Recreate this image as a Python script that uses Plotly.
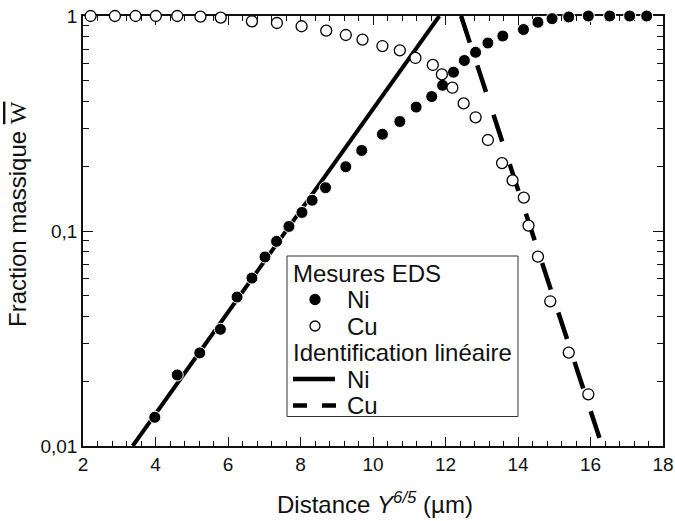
import plotly.graph_objects as go

# Mesures EDS - Ni (filled)
ni_x = [3.98, 4.60, 5.22, 5.79, 6.25, 6.66, 7.02, 7.34, 7.68, 8.04, 8.32, 8.69,
        9.25, 9.69, 10.26, 10.74, 11.19, 11.62, 11.92, 12.22, 12.52, 12.83, 13.17,
        13.58, 14.15, 14.55, 14.94, 15.40, 15.94, 16.53, 17.08, 17.55]
ni_y = [0.0136, 0.0214, 0.0271, 0.0349, 0.0493, 0.0604, 0.0757, 0.0895, 0.105,
        0.122, 0.139, 0.159, 0.199, 0.237, 0.282, 0.323, 0.377, 0.422, 0.476,
        0.548, 0.621, 0.678, 0.749, 0.807, 0.865, 0.935, 0.972, 0.99, 1.0, 1.0,
        1.0, 1.0]

# Mesures EDS - Cu (open)
cu_x = [2.21, 2.88, 3.45, 4.01, 4.60, 5.24, 5.80, 6.66, 7.35, 8.03, 8.71, 9.25,
        9.71, 10.26, 10.74, 11.17, 11.65, 11.90, 12.19, 12.50, 12.83, 13.17,
        13.56, 13.85, 14.16, 14.29, 14.55, 14.89, 15.40, 15.94]
cu_y = [1.0, 1.0, 1.0, 1.0, 1.0, 0.994, 0.983, 0.945, 0.928, 0.896, 0.855, 0.816,
        0.777, 0.725, 0.692, 0.638, 0.592, 0.535, 0.464, 0.392, 0.338, 0.265,
        0.207, 0.172, 0.143, 0.106, 0.076, 0.0471, 0.0272, 0.0174]

# Identification linéaire (end points)
fit_ni_x = [3.37, 11.83]
fit_ni_y = [0.01, 1.0]
fit_cu_x = [12.43, 16.32]
fit_cu_y = [1.0, 0.01]

x_tickvals = [2, 4, 6, 8, 10, 12, 14, 16, 18]
y_tickvals = [0.01, 0.1, 1]
y_ticktext = ["0,01", "0,1", "1"]
y_minor_vals = [m * d for d in (0.01, 0.1) for m in range(2, 10)]

x_title = "Distance <i>Y</i><sup><i>6/5</i></sup> (µm)"
y_title = ("Fraction massique <span style='font-family:Liberation Serif, Times New Roman, serif;"
           "text-decoration:overline'>W</span>")
legend_title_eds = "Mesures EDS"
legend_title_lin = "Identification linéaire"
legend_labels = ["Ni", "Cu", "Ni", "Cu"]

INK = "#111111"
FONT = "Liberation Sans, Arial, sans-serif"

W, H = 675, 521
L, R, T, B = 83, 12, 16, 75
PW, PH = W - L - R, H - T - B


def px2x(px):
    return (px - L) / PW


def px2y(py):
    return (H - B - py) / PH


fig = go.Figure()

fig.add_trace(go.Scatter(
    x=fit_ni_x, y=fit_ni_y, mode="lines", name="Ni (identification)",
    line=dict(color="black", width=4), showlegend=False))
fig.add_trace(go.Scatter(
    x=fit_cu_x, y=fit_cu_y, mode="lines", name="Cu (identification)",
    line=dict(color="black", width=4.5, dash="28px,24px"), showlegend=False))
fig.add_trace(go.Scatter(
    x=ni_x, y=ni_y, mode="markers", name="Ni (EDS)",
    marker=dict(symbol="circle", size=12, color="black",
                line=dict(color="white", width=1)),
    cliponaxis=False, showlegend=False))
fig.add_trace(go.Scatter(
    x=cu_x, y=cu_y, mode="markers", name="Cu (EDS)",
    marker=dict(symbol="circle", size=11, color="white",
                line=dict(color="black", width=1.3)),
    cliponaxis=False, showlegend=False))

axis_common = dict(
    showline=True, linecolor=INK, linewidth=1.5, mirror="allticks",
    ticks="inside", tickcolor=INK, tickwidth=1.2,
    showgrid=False, zeroline=False, layer="below traces", automargin=False,
    tickfont=dict(family=FONT, size=19, color=INK),
)

fig.update_xaxes(
    range=[2, 18], tickvals=x_tickvals, ticklen=9,
    minor=dict(dtick=0.4, tick0=2, ticks="inside", ticklen=5,
               tickcolor=INK, tickwidth=1.2, showgrid=False),
    **axis_common)
fig.update_yaxes(
    type="log", range=[-2, 0], tickvals=y_tickvals, ticktext=y_ticktext,
    ticklen=10,
    minor=dict(tickmode="array", tickvals=y_minor_vals, ticks="inside",
               ticklen=6, tickcolor=INK, tickwidth=1.2, showgrid=False),
    **axis_common)

annotations = [
    dict(text=x_title, x=px2x(375), y=px2y(503), xref="paper", yref="paper",
         xanchor="center", yanchor="middle", showarrow=False,
         font=dict(family=FONT, size=24, color=INK)),
    dict(text=y_title, x=px2x(18), y=px2y(214), xref="paper", yref="paper",
         xanchor="center", yanchor="middle", showarrow=False, textangle=-90,
         font=dict(family=FONT, size=24, color=INK)),
]

# Manual legend (box, symbols, texts)
shapes = [dict(type="rect", xref="paper", yref="paper",
               x0=px2x(287), x1=px2x(518), y0=px2y(416.5), y1=px2y(256),
               line=dict(color="#333333", width=1), fillcolor="white",
               layer="above")]
row_y = [273, 299.5, 326, 352.5, 379, 405.5]
leg_font = dict(family=FONT, size=24, color=INK)
annotations.append(dict(text=legend_title_eds, x=px2x(291), y=px2y(row_y[0]),
                        xref="paper", yref="paper", xanchor="left",
                        yanchor="middle", showarrow=False, font=leg_font))
annotations.append(dict(text=legend_title_lin, x=px2x(291), y=px2y(row_y[3]),
                        xref="paper", yref="paper", xanchor="left",
                        yanchor="middle", showarrow=False, font=leg_font))
for label, ry in zip(legend_labels, [row_y[1], row_y[2], row_y[4], row_y[5]]):
    annotations.append(dict(text=label, x=px2x(345), y=px2y(ry),
                            xref="paper", yref="paper", xanchor="left",
                            yanchor="middle", showarrow=False, font=leg_font))
# marker symbols
for ry, fill in [(row_y[1], "black"), (row_y[2], "white")]:
    shapes.append(dict(type="circle", xref="paper", yref="paper",
                       xsizemode="pixel", ysizemode="pixel",
                       xanchor=px2x(315), yanchor=px2y(ry),
                       x0=-5, x1=5, y0=-5, y1=5,
                       line=dict(color="black", width=1.3), fillcolor=fill,
                       layer="above"))
# line samples
shapes.append(dict(type="line", xref="paper", yref="paper",
                   x0=px2x(293), x1=px2x(335), y0=px2y(row_y[4]), y1=px2y(row_y[4]),
                   line=dict(color="black", width=4.5), layer="above"))
shapes.append(dict(type="line", xref="paper", yref="paper",
                   x0=px2x(293), x1=px2x(336), y0=px2y(row_y[5]), y1=px2y(row_y[5]),
                   line=dict(color="black", width=4.5, dash="14px,15px"),
                   layer="above"))

fig.update_layout(
    width=W, height=H,
    margin=dict(l=L, r=R, t=T, b=B),
    plot_bgcolor="white", paper_bgcolor="white",
    font=dict(family=FONT, size=18, color=INK),
    showlegend=False,
    annotations=annotations,
    shapes=shapes,
)

fig.write_html("out.html",
               config={"displayModeBar": False},
               post_script="document.body.style.margin='0px';"
                           "document.body.style.overflow='hidden';")
